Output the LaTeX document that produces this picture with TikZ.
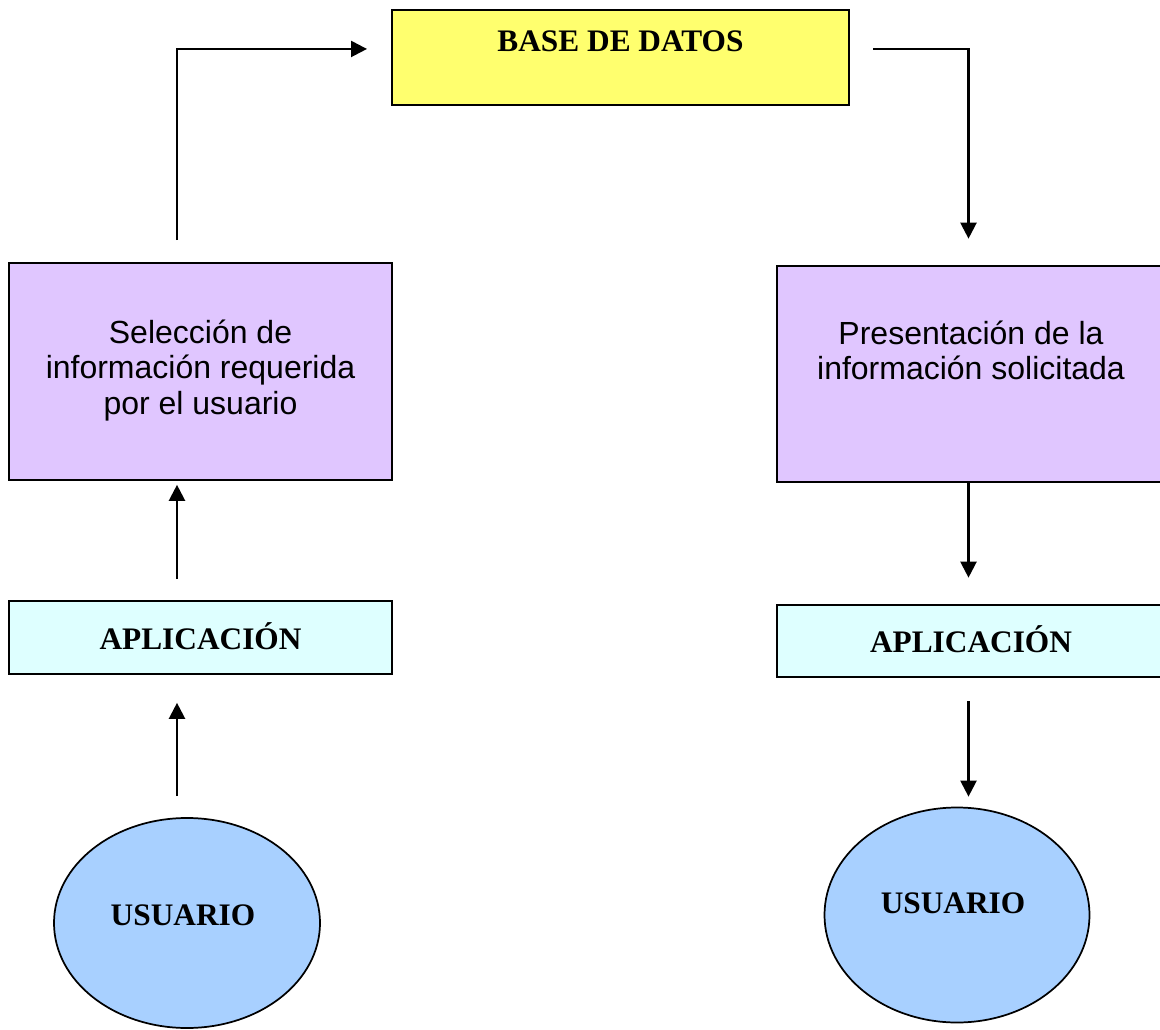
\documentclass[tikz,border=0pt]{standalone}
\usepackage{fontspec}
\setmainfont{Liberation Serif}
\setsansfont{Liberation Sans}
\usepackage{tikz}
\usetikzlibrary{arrows.meta, positioning, shapes.geometric}

\definecolor{dbyellow}{RGB}{255,255,110}
\definecolor{infolila}{RGB}{224,198,255}
\definecolor{appcyan}{RGB}{222,255,255}
\definecolor{userblue}{RGB}{168,208,255}

\begin{document}
\begin{tikzpicture}[x=0.75pt,y=-0.75pt,>={Triangle[length=12pt,width=12pt]},
        every node/.style={inner sep=0pt},
        box/.style={draw=black,line width=1.5pt,rectangle},
        boldtxt/.style={font=\fontsize{23.5}{27}\selectfont\bfseries},
        sanstxt/.style={font=\sffamily\fontsize{24}{27.5}\selectfont,align=center},
        dbbox/.style={box,fill=dbyellow,minimum width=342.75pt,minimum height=71.25pt},
        infobox/.style={box,fill=infolila,minimum height=162.5pt},
        appbox/.style={box,fill=appcyan,minimum height=54.5pt},
        userell/.style={ellipse,draw=black,line width=1.3pt,fill=userblue},
        flow/.style={->,line width=1.7pt}]

        \useasboundingbox (0,0) rectangle (1160,1030);

        \coordinate (lx) at (177,0);
        \coordinate (rx) at (968.5,0);

        % base de datos
        \node[dbbox,label={[boldtxt,yshift=12.4pt]center:BASE DE DATOS}] (db) at (620.5,57.5) {};

        % lado izquierdo
        \node[infobox,minimum width=287.25pt,sanstxt] (sel) at (200.5,371.5)
            {\raisebox{3.5pt}{\begin{tabular}{@{}c@{}}Selección de\\[-1pt]información requerida\\[-1pt]por el usuario\end{tabular}}};
        \node[appbox,minimum width=287.25pt,boldtxt] (app1) at (200.5,637.5) {\raisebox{2pt}{APLICACIÓN}};
        \node[userell,minimum width=199.5pt,minimum height=157.5pt,
            label={[boldtxt,yshift=6pt,xshift=-3pt]center:USUARIO}] (usr1) at (187,923) {};

        % lado derecho
        \node[infobox,minimum width=291pt,
            label={[sanstxt,yshift=17.6pt]center:Presentación de la\\[-1pt]información solicitada}] (pres) at (971,374) {};
        \node[appbox,minimum width=291pt,boldtxt] (app2) at (971,641) {\raisebox{3pt}{APLICACIÓN}};
        \node[userell,minimum width=198.75pt,minimum height=161.25pt,
            label={[boldtxt,yshift=9pt,xshift=-3pt]center:USUARIO}] (usr2) at (957,915) {};

        \draw[flow,shorten <=15.75pt,shorten >=21pt] (usr1.north -| lx) -- (app1.south -| lx);
        \draw[flow,shorten <=15.75pt,shorten >=3pt] (app1.north -| lx) -- (sel.south -| lx);
        \draw[flow,shorten <=16.5pt,shorten >=18pt] (sel.north -| lx) |- ([yshift=6.4pt]db.west);
        \draw[flow,shorten <=17.25pt,shorten >=19.5pt] ([yshift=6.4pt]db.east) -| (pres.north -| rx);
        \draw[flow,shorten >=19.5pt] (pres.south -| rx) -- (app2.north -| rx);
        \draw[flow,shorten <=17.25pt,shorten >=7.5pt] (app2.south -| rx) -- (usr2.north -| rx);
    \end{tikzpicture}
\end{document}
